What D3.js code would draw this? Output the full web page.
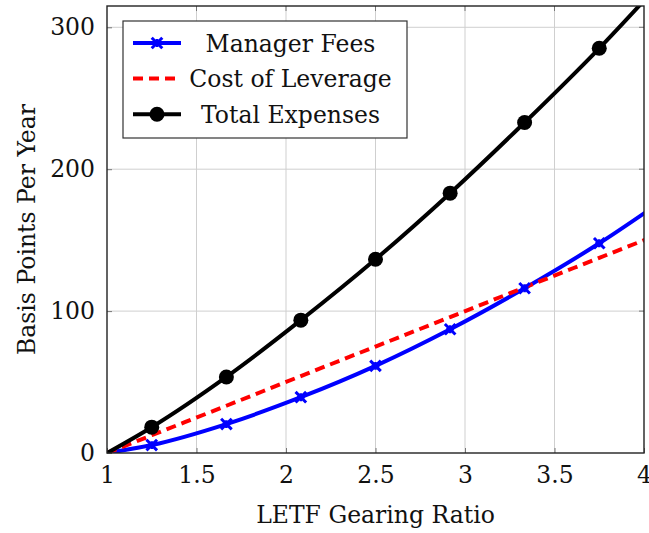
<!DOCTYPE html>
<html>
<head>
<meta charset="utf-8">
<script src="https://cdn.jsdelivr.net/npm/d3@7"></script>
<style>
  body { margin: 0; background: #fff; }
  text { font-family: "DejaVu Serif", serif; fill: #111; }
</style>
</head>
<body>
<div id="viz"></div>
<script>
const margin = {top: 6, right: 5, bottom: 80, left: 107};
const width = 649;
const height = 533;
const fontSize = '23.5px';

// gearing ratio (x) and the three expense series, in basis points per year
const gearing = [1, 1.25, 1.667, 2.083, 2.5, 2.917, 3.333, 3.75, 4.167];
const managerFees = [0, 5.6, 20.4, 39.3, 61.4, 87.2, 116.1, 147.8, 183.5];
const costOfLeverage = [0, 12.5, 33.3, 54.2, 75, 95.8, 116.7, 137.5, 158.3];
const totalExpenses = [0, 18.2, 53.6, 93.6, 136.5, 183.1, 232.9, 285.2, 341.8];

const xTicks = [1, 1.5, 2, 2.5, 3, 3.5, 4];
const yTicks = [0, 100, 200, 300];

const series = [
  { label: 'Manager Fees', values: managerFees, color: '#0000ff', mark: 'x', dash: null },
  { label: 'Cost of Leverage', values: costOfLeverage, color: '#ff0000', mark: null, dash: '10,6' },
  { label: 'Total Expenses', values: totalExpenses, color: '#000000', mark: 'o', dash: null },
];

const svg = d3.select('#viz').append('svg')
  .attr('width', width)
  .attr('height', height);

const x = d3.scaleLinear().domain([1, 4]).range([margin.left, width - margin.right]);
const y = d3.scaleLinear().domain([0, 315]).range([height - margin.bottom, margin.top]);

// grid
svg.append('g').selectAll('line')
  .data(xTicks.slice(1, -1))
  .join('line')
    .attr('x1', d => x(d)).attr('x2', d => x(d))
    .attr('y1', y(0)).attr('y2', y(315))
    .attr('stroke', '#cfcfcf').attr('stroke-width', 1);
svg.append('g').selectAll('line')
  .data(yTicks.slice(1))
  .join('line')
    .attr('x1', x(1)).attr('x2', x(4))
    .attr('y1', d => y(d)).attr('y2', d => y(d))
    .attr('stroke', '#cfcfcf').attr('stroke-width', 1);

// axes (ticks inside, labels outside)
const xAxis = svg.append('g')
  .attr('transform', `translate(0,${y(0)})`)
  .call(d3.axisBottom(x).tickValues(xTicks).tickSize(-5).tickPadding(13).tickFormat(d3.format('')));
const yAxis = svg.append('g')
  .attr('transform', `translate(${x(1)},0)`)
  .call(d3.axisLeft(y).tickValues(yTicks).tickSize(-5).tickPadding(12).tickFormat(d3.format('')));
[xAxis, yAxis].forEach(a => {
  a.select('.domain').remove();
  a.selectAll('.tick line').attr('stroke', '#777');
  a.selectAll('.tick text').style('font-family', '"DejaVu Serif", serif').style('font-size', fontSize).attr('fill', '#111');
});

// top/right mirror ticks
svg.append('g').selectAll('line')
  .data(xTicks.slice(1, -1))
  .join('line')
    .attr('x1', d => x(d)).attr('x2', d => x(d))
    .attr('y1', y(315)).attr('y2', y(315) + 5)
    .attr('stroke', '#777');
svg.append('g').selectAll('line')
  .data(yTicks.slice(1))
  .join('line')
    .attr('x1', x(4)).attr('x2', x(4) - 5)
    .attr('y1', d => y(d)).attr('y2', d => y(d))
    .attr('stroke', '#777');

// clip
svg.append('clipPath').attr('id', 'clip')
  .append('rect')
    .attr('x', x(1)).attr('y', y(315))
    .attr('width', x(4) - x(1)).attr('height', y(0) - y(315));

const plot = svg.append('g').attr('clip-path', 'url(#clip)');

const line = d3.line()
  .x((d, i) => x(gearing[i]))
  .y(d => y(d))
  .curve(d3.curveMonotoneX);

series.forEach(s => {
  plot.append('path')
    .attr('d', line(s.values))
    .attr('fill', 'none')
    .attr('stroke', s.color)
    .attr('stroke-width', 4)
    .attr('stroke-dasharray', s.dash);
});

const crossPath = d3.symbol().type(d3.symbolTimes).size(75);
const starPath = d3.symbol().type(d3.symbolCross).size(34);

function drawMark(g, s, cx, cy) {
  if (s.mark === 'o') {
    g.append('circle').attr('cx', cx).attr('cy', cy).attr('r', 7.5).attr('fill', s.color);
  } else if (s.mark === 'x') {
    g.append('path').attr('d', crossPath()).attr('transform', `translate(${cx},${cy})`)
      .attr('fill', 'none').attr('stroke', s.color).attr('stroke-width', 3);
    g.append('path').attr('d', starPath()).attr('transform', `translate(${cx},${cy})`)
      .attr('fill', s.color);
  }
}

series.forEach(s => {
  if (!s.mark) return;
  s.values.forEach((v, i) => {
    if (i === 0) return;
    drawMark(plot, s, x(gearing[i]), y(v));
  });
});

// frame
svg.append('rect')
  .attr('x', x(1)).attr('y', y(315))
  .attr('width', x(4) - x(1)).attr('height', y(0) - y(315))
  .attr('fill', 'none').attr('stroke', '#222').attr('stroke-width', 1.4);

// legend
const legend = svg.append('g');
legend.append('rect')
  .attr('x', 123).attr('y', 21).attr('width', 284).attr('height', 117)
  .attr('fill', '#fff').attr('stroke', '#333').attr('stroke-width', 1.2);
series.forEach((s, i) => {
  const cy = 43 + i * 35.6;
  legend.append('line')
    .attr('x1', 133).attr('x2', 181).attr('y1', cy).attr('y2', cy)
    .attr('stroke', s.color).attr('stroke-width', 4)
    .attr('stroke-dasharray', s.dash);
  drawMark(legend, s, 157, cy);
  legend.append('text')
    .attr('x', 290.5).attr('y', cy + 8.5)
    .attr('text-anchor', 'middle')
    .style('font-size', fontSize)
    .text(s.label);
});

// axis labels
svg.append('text')
  .attr('x', (x(1) + x(4)) / 2).attr('y', 523)
  .attr('text-anchor', 'middle')
  .style('font-size', fontSize)
  .text('LETF Gearing Ratio');
svg.append('text')
  .attr('transform', `translate(35,${(y(0) + y(315)) / 2}) rotate(-90)`)
  .attr('text-anchor', 'middle')
  .style('font-size', fontSize)
  .text('Basis Points Per Year');
</script>
</body>
</html>
